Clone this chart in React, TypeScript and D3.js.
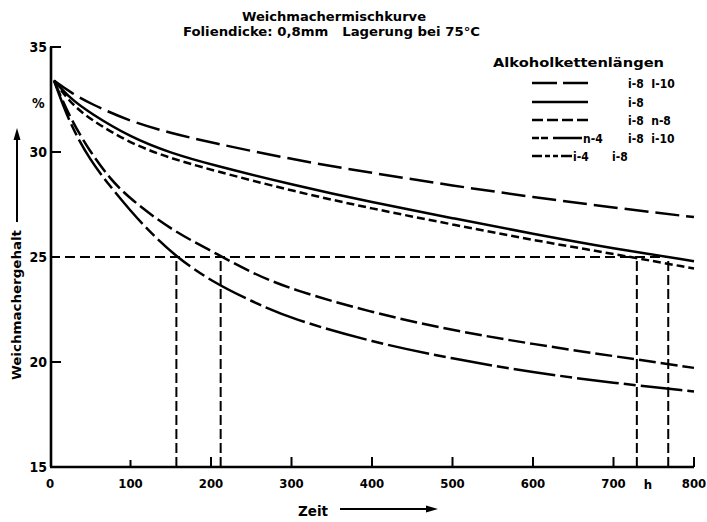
import React from "react";
import * as d3 from "d3";

const W = 707;
const H = 522;

const titleLines = ["Weichmachermischkurve", "Foliendicke: 0,8mm   Lagerung bei 75°C"];
const legendTitle = "Alkoholkettenlängen";

const xTicks = [0, 100, 200, 300, 400, 500, 600, 700, 800];
const yTicks = [15, 20, 25, 30, 35];

// time (h)
const tA = [5, 25, 50, 100, 150, 200, 300, 400, 500, 600, 700, 800];
const vA = [33.4, 32.85, 32.3, 31.45, 30.9, 30.45, 29.65, 29.0, 28.4, 27.85, 27.35, 26.9];

const tB = [5, 25, 50, 100, 150, 200, 300, 400, 500, 600, 700, 800];
const vB = [33.4, 32.55, 31.85, 30.7, 29.95, 29.4, 28.45, 27.6, 26.85, 26.1, 25.4, 24.8];

const tC = [5, 25, 50, 100, 150, 200, 300, 400, 500, 600, 700, 800];
const vC = [33.4, 32.35, 31.55, 30.4, 29.7, 29.15, 28.15, 27.3, 26.55, 25.8, 25.15, 24.45];

const tD = [5, 25, 50, 75, 100, 150, 200, 250, 300, 400, 500, 600, 700, 800];
const vD = [33.4, 31.6, 30.0, 28.7, 27.75, 26.3, 25.3, 24.25, 23.45, 22.35, 21.5, 20.85, 20.28, 19.72];

const tE = [5, 25, 50, 75, 100, 125, 157, 200, 250, 300, 400, 500, 600, 700, 800];
const vE = [33.4, 31.3, 29.6, 28.35, 27.2, 26.15, 25.0, 23.85, 22.9, 22.05, 20.95, 20.15, 19.5, 19.0, 18.6];

const refLevel = 25;
const refTimes = [157, 212, 729, 768];

const legendLabels = [
  ["", "i-8  I-10"],
  ["", "i-8"],
  ["", "i-8  n-8"],
  ["n-4", "i-8  i-10"],
  ["i-4", "i-8"],
];

const seriesList = [
  { t: tA, v: vA, dash: "24 7" },
  { t: tB, v: vB, dash: "" },
  { t: tC, v: vC, dash: "8 4" },
  { t: tD, v: vD, dash: "17 5" },
  { t: tE, v: vE, dash: "42 5 12 5" },
];
const legendDash = ["25 6", "", "11 4", "7 2 7 5 29 0", "10 3 5 3 5 3 11 0"];

const FONT = "'DejaVu Sans Condensed', 'DejaVu Sans', sans-serif";

export default function App() {
  const x = d3.scaleLinear().domain([0, 800]).range([50, 694]);
  const y = d3.scaleLinear().domain([15, 35]).range([467, 47]);

  const line = d3
    .line<[number, number]>()
    .x((d) => x(d[0]))
    .y((d) => y(d[1]))
    .curve(d3.curveBasis);

  const txt = { fontFamily: FONT, fontWeight: 700, fill: "#000" } as const;

  return (
    <svg width={W} height={H} style={{ display: "block", position: "absolute", left: 0, top: 0, background: "#fff" }}>
      <rect width={W} height={H} fill="#fff" />
      {/* titles */}
      <text x={334} y={21} textAnchor="middle" fontSize={12} textLength={184} lengthAdjust="spacingAndGlyphs" {...txt}>
        {titleLines[0]}
      </text>
      <text x={183} y={36} fontSize={12} textLength={297} lengthAdjust="spacingAndGlyphs" {...txt} style={{ whiteSpace: "pre" }}>
        {titleLines[1]}
      </text>

      {/* axes */}
      <line x1={x(0) + 1} x2={x(0) + 1} y1={y(15)} y2={y(35)} stroke="#000" strokeWidth={2.6} />
      <line x1={x(0)} x2={x(800)} y1={y(15)} y2={y(15)} stroke="#000" strokeWidth={2.6} />
      {yTicks
        .filter((v) => v !== 15 && v !== 25)
        .map((v) => (
          <line key={v} x1={x(0)} x2={x(0) + 11} y1={y(v)} y2={y(v)} stroke="#000" strokeWidth={2} />
        ))}
      {xTicks
        .filter((t) => t !== 0)
        .map((t) => (
          <line key={t} x1={x(t)} x2={x(t)} y1={y(15)} y2={y(15) - (t === 100 ? 7 : 10)} stroke="#000" strokeWidth={2} />
        ))}
      {yTicks.map((v) => (
        <text key={v} x={47} y={y(v) + 5} textAnchor="end" fontSize={14} {...txt}>
          {v}
        </text>
      ))}
      {xTicks.map((t) => (
        <text key={t} x={x(t)} y={488} textAnchor="middle" fontSize={13} {...txt}>
          {t}
        </text>
      ))}
      <text x={648} y={489} textAnchor="middle" fontSize={13} {...txt}>h</text>
      <text x={32} y={108} fontSize={14} {...txt}>%</text>

      {/* reference lines */}
      <line x1={x(0)} x2={x(768)} y1={y(refLevel)} y2={y(refLevel)} stroke="#000" strokeWidth={2} strokeDasharray="10 5" />
      {refTimes.map((t) => (
        <line key={t} x1={x(t)} x2={x(t)} y1={y(15)} y2={y(refLevel)} stroke="#000" strokeWidth={2} strokeDasharray="10 4" />
      ))}

      {/* curves */}
      {seriesList.map((s, i) => (
        <path
          key={i}
          d={line(s.t.map((t, j) => [t, s.v[j]] as [number, number])) || ""}
          fill="none"
          stroke="#000"
          strokeWidth={2.5}
          strokeDasharray={s.dash || undefined}
        />
      ))}

      {/* legend */}
      <text x={493} y={67} fontSize={13} textLength={171} lengthAdjust="spacingAndGlyphs" {...txt}>
        {legendTitle}
      </text>
      {legendLabels.map((lab, i) => {
        const ly = [83, 102, 120, 138, 156][i];
        const x2 = lab[0] ? (i === 4 ? 572 : 582) : 588;
        return (
          <g key={i}>
            <line x1={532} x2={x2} y1={ly} y2={ly} stroke="#000" strokeWidth={2.5} strokeDasharray={legendDash[i] || undefined} />
            {lab[0] && (
              <text x={x2 + 1} y={ly + 5} fontSize={12} {...txt}>
                {lab[0]}
              </text>
            )}
            <text x={i === 4 ? 612 : 628} y={ly + 5} fontSize={12} {...txt} style={{ whiteSpace: "pre" }}>
              {lab[1]}
            </text>
          </g>
        );
      })}

      {/* axis titles */}
      <text
        transform="translate(21,305) rotate(-90)"
        textAnchor="middle"
        fontSize={13}
        textLength={150}
        lengthAdjust="spacingAndGlyphs"
        {...txt}
      >
        Weichmachergehalt
      </text>
      <line x1={17} x2={17} y1={222} y2={138} stroke="#000" strokeWidth={2} />
      <path d="M17,128 L13.5,140 L20.5,140 Z" fill="#000" />

      <text x={298} y={516} fontSize={14} textLength={30} lengthAdjust="spacingAndGlyphs" {...txt}>
        Zeit
      </text>
      <line x1={340} x2={428} y1={509} y2={509} stroke="#000" strokeWidth={2} />
      <path d="M438,509 L426,505.5 L426,512.5 Z" fill="#000" />
    </svg>
  );
}
